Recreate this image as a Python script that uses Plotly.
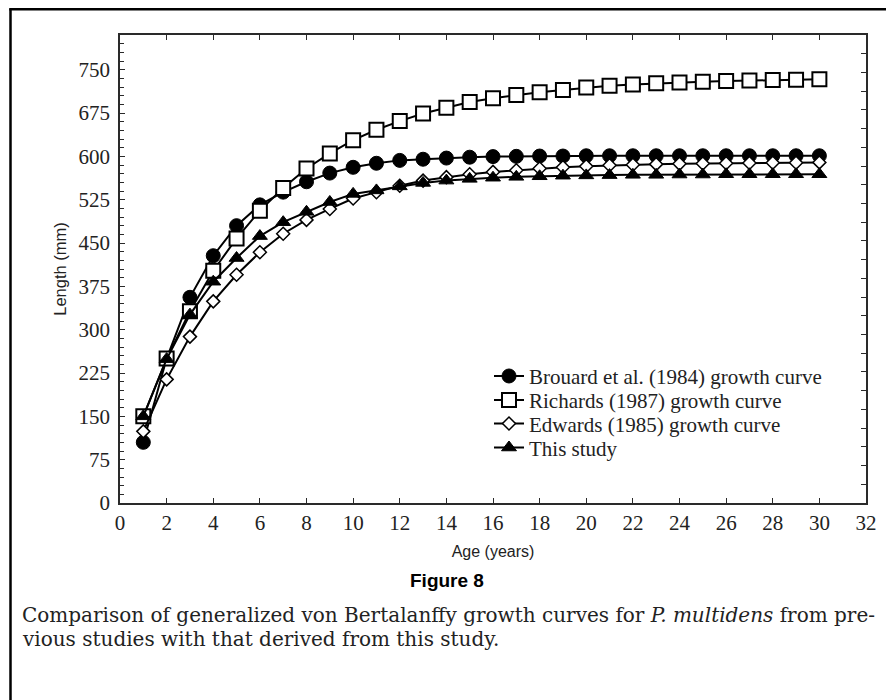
import plotly.graph_objects as go

ages = list(range(1, 31))

brouard = [105, 250, 356, 428, 480, 516, 538, 556, 571, 581, 588, 593, 595, 597, 598.5,
           599.5, 600, 600.5, 600.5, 601, 601, 601, 601, 601, 601, 601, 601, 601, 601, 601]
richards = [150, 250, 332, 402, 458, 506, 545, 579, 605, 628, 646, 661, 674, 684, 694,
            700.5, 706, 711, 715, 719, 722, 724.5, 726.5, 728, 729.3, 730.3, 731.2, 732, 732.6, 733.2]
edwards = [124, 214, 288, 349, 395, 434, 466, 490, 509, 527, 538, 549, 558, 564, 569,
           573, 576, 579, 581, 583, 584.5, 585.5, 586.5, 587, 587.5, 588, 588.5, 589, 589, 589.5]
this_study = [150, 249, 326, 383, 424, 462, 486, 504, 521, 535, 541, 548, 554, 558, 561,
              563, 564.5, 565.5, 566.5, 567, 567.5, 568, 568, 568.5, 568.5, 569, 569, 569, 569, 569]

names = ["Brouard et al. (1984) growth curve", "Richards (1987) growth curve",
         "Edwards (1985) growth curve", "This study"]

y_ticks = list(range(0, 751, 75))
x_ticks = list(range(0, 33, 2))

# the page body adds an 8px margin; work in page pixels and convert
OFF = 8
W, H = 894 - OFF, 700 - OFF
L, R, T, B = 120 - OFF, 866 - OFF, 35 - OFF, 503.5 - OFF
pw, ph = R - L, B - T


def px(x_page):
    return (x_page - OFF - L) / pw


def py(y_page):
    return (B - (y_page - OFF)) / ph


serif = "Liberation Serif, Times New Roman, serif"
sans = "Liberation Sans, Arial, sans-serif"
axis_color = "#2a2a2a"
tick_font = dict(family=serif, size=21, color="#222")

series = [
    (brouard, dict(symbol="circle", size=14, color="black", line=dict(color="black", width=1))),
    (richards, dict(symbol="square", size=14, color="white", line=dict(color="black", width=2))),
    (edwards, dict(symbol="diamond", size=10, color="white", line=dict(color="black", width=1.5))),
    (this_study, dict(symbol="triangle-up", size=13, color="black", line=dict(color="black", width=1))),
]
legend_ids = ["legend", "legend2", "legend3", "legend4"]
legend_centers = [376.7, 400.7, 424.3, 448.3]

fig = go.Figure()
for (vals, mk), nm, lg in zip(series, names, legend_ids):
    fig.add_trace(go.Scatter(x=ages, y=vals, name=nm, mode="lines+markers", legend=lg,
                             line=dict(color="black", width=2), marker=mk))

# empty helper trace so the right-hand tick axis is drawn
fig.add_trace(go.Scatter(x=[], y=[], yaxis="y2", showlegend=False, hoverinfo="skip"))

legend_layout = {}
for lg, yc in zip(legend_ids, legend_centers):
    legend_layout[lg] = dict(x=px(489), y=py(yc), xanchor="left", yanchor="middle",
                             font=dict(family=serif, size=21, color="#222"),
                             bgcolor="rgba(0,0,0,0)", borderwidth=0, itemwidth=30)

fig.update_layout(
    width=W, height=H,
    margin=dict(l=L, r=W - R, t=T, b=H - B, autoexpand=False),
    paper_bgcolor="white", plot_bgcolor="white",
    showlegend=True,
    xaxis=dict(range=[0, 32], tickvals=x_ticks, ticks="inside", ticklen=5, tickwidth=1.2,
               tickcolor=axis_color, showline=True, linecolor=axis_color, linewidth=1.5,
               mirror="ticks", showgrid=False, zeroline=False, tickfont=tick_font,
               title=dict(text="Age (years)", standoff=12,
                          font=dict(family=sans, size=16, color="#222"))),
    yaxis=dict(range=[0, 810], tickvals=y_ticks, ticks="inside", ticklen=5, tickwidth=1.2,
               tickcolor=axis_color, showline=True, linecolor=axis_color, linewidth=1.5,
               mirror=True, showgrid=False, zeroline=False, tickfont=tick_font,
               ticklabelstandoff=4,
               minor=dict(dtick=15, ticks="inside", ticklen=4, tickcolor=axis_color, tickwidth=1,
                          showgrid=False),
               title=dict(text="Length (mm)", standoff=8,
                          font=dict(family=sans, size=16.5, color="#222"))),
    yaxis2=dict(range=[0, 25], dtick=1, overlaying="y", side="right", ticks="inside",
                ticklen=5, tickwidth=1.2, tickcolor=axis_color, showticklabels=False,
                showline=False, showgrid=False, zeroline=False),
    **legend_layout,
)

fig.add_annotation(text="<b>Figure 8</b>", xref="paper", yref="paper",
                   x=px(447), y=py(581), xanchor="center", yanchor="middle", showarrow=False,
                   font=dict(family=sans, size=19, color="black"))
caption_font = dict(family="DejaVu Serif, serif", size=20, color="#222")
fig.add_annotation(
    text="Comparison of generalized von Bertalanffy growth curves for <i>P. multidens</i> from pre-",
    xref="paper", yref="paper", x=px(20), y=py(616), xanchor="left", yanchor="middle",
    align="left", showarrow=False, font=caption_font)
fig.add_annotation(
    text="vious studies with that derived from this study.",
    xref="paper", yref="paper", x=px(20), y=py(640), xanchor="left", yanchor="middle",
    align="left", showarrow=False, font=caption_font)

frame = dict(color="black", width=2.5)
fig.add_shape(type="line", xref="paper", yref="paper", x0=px(10.5), x1=px(10.5),
              y0=py(OFF + 0.5), y1=py(710), line=frame)
fig.add_shape(type="line", xref="paper", yref="paper", x0=px(9.3), x1=px(910),
              y0=py(OFF + 1.2), y1=py(OFF + 1.2), line=frame)

fig.write_html("out.html")
